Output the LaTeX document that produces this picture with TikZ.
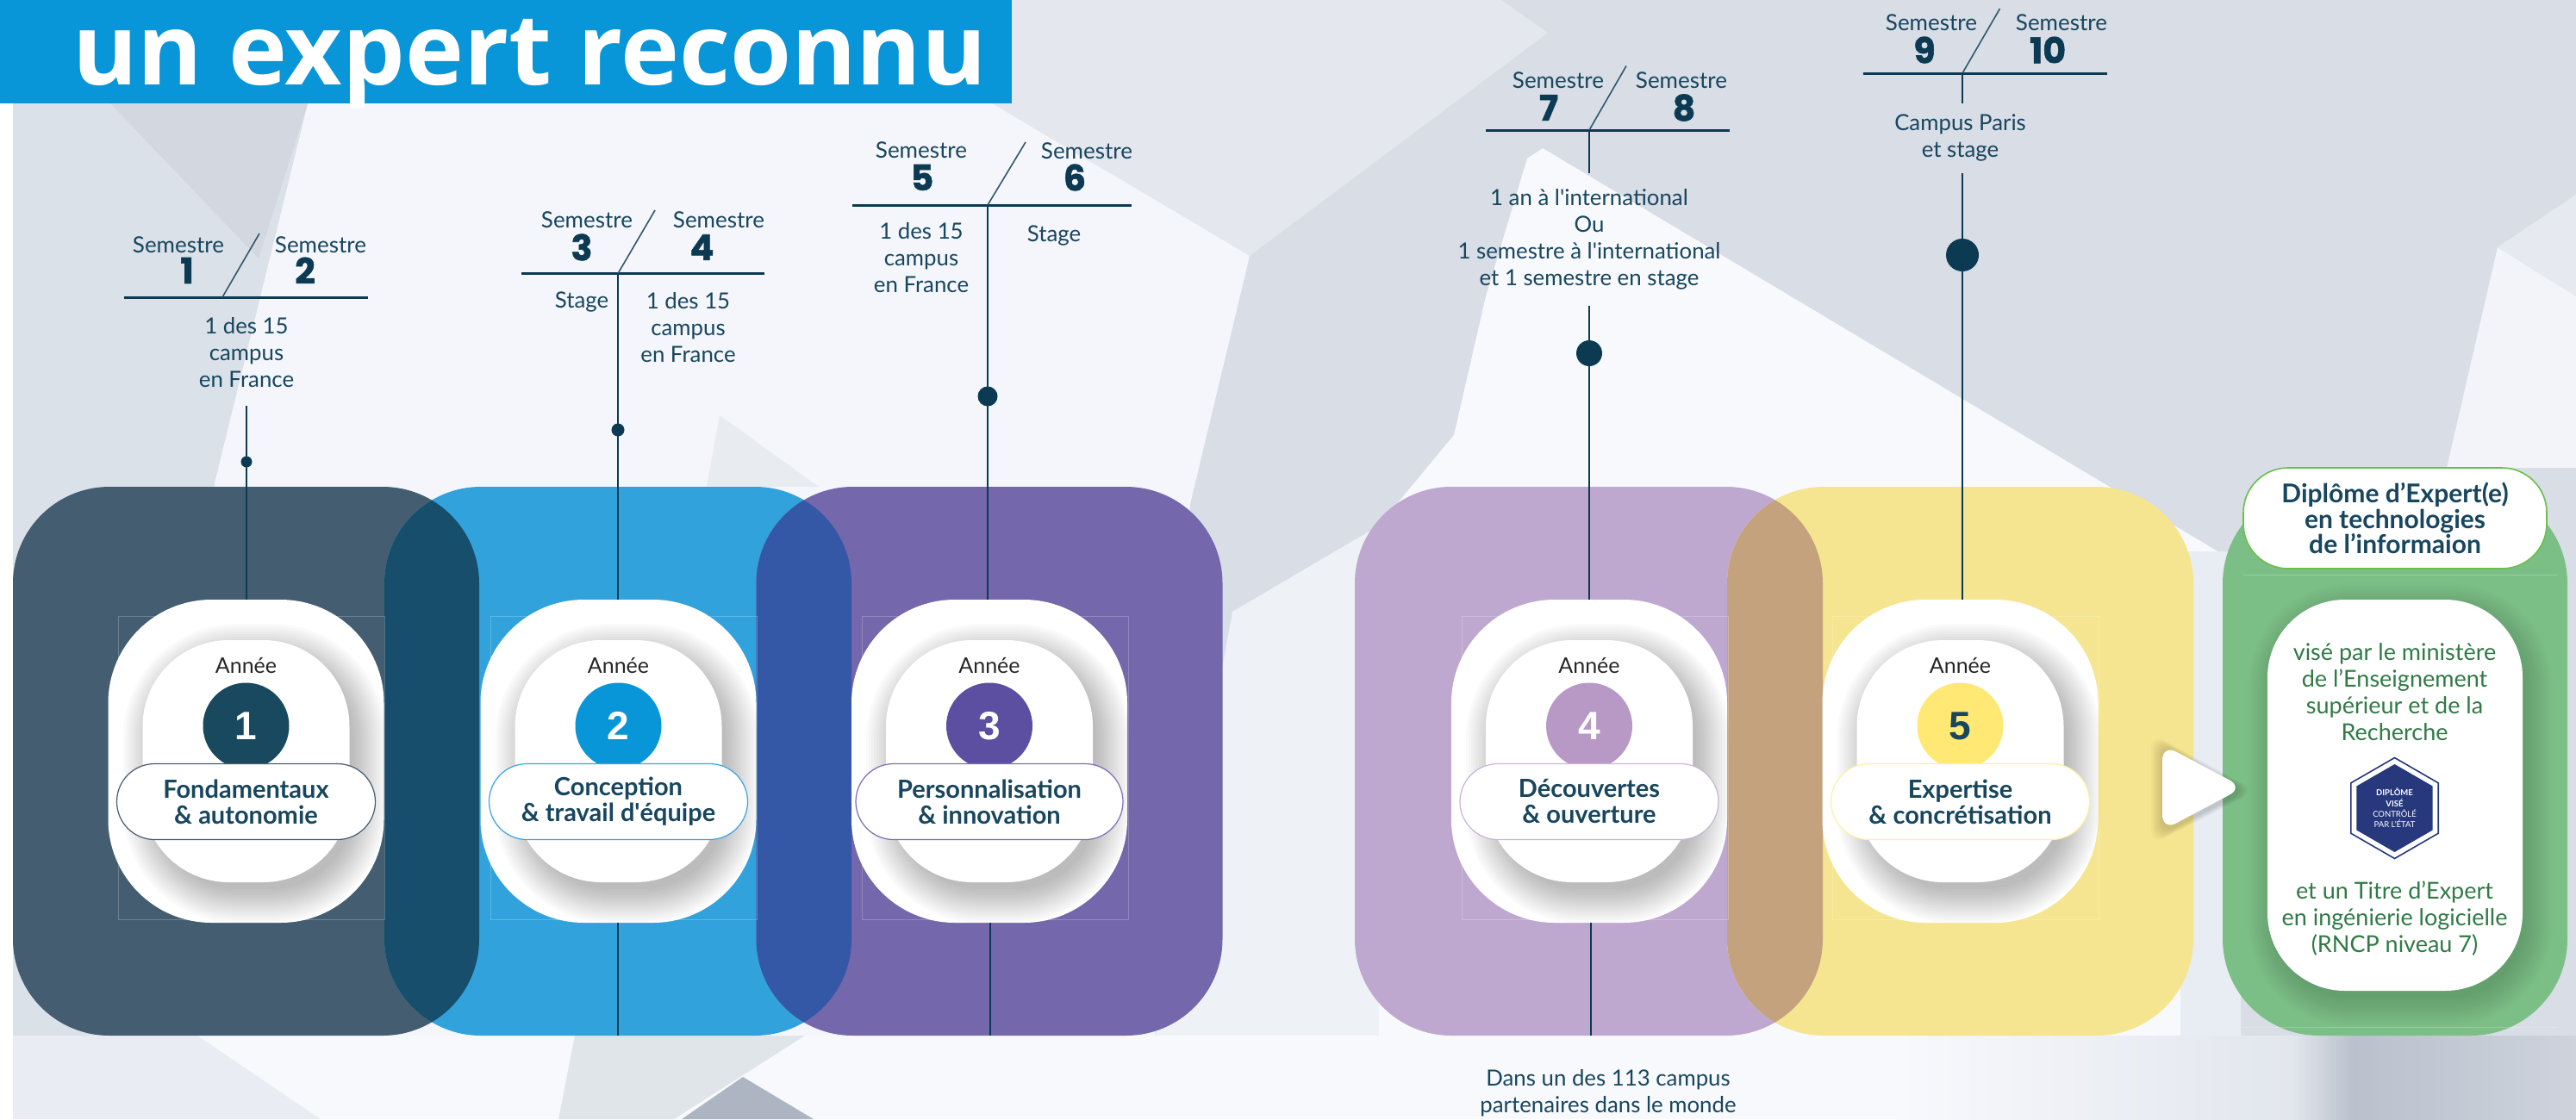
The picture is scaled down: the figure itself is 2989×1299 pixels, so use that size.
\documentclass[tikz,border=0pt]{standalone}
\usepackage{fontspec}
\setmainfont{Lato}
\newfontfamily\numfont[BoldFeatures={FakeBold=1.4}]{Poppins}
\newfontfamily\yearfont{Liberation Sans}
\newfontfamily\headfont{Open Sans}
\usetikzlibrary{shapes}

\definecolor{ink}{HTML}{17465E}
\definecolor{inkdark}{HTML}{0B3A52}
\definecolor{greentext}{HTML}{2F7A45}
\definecolor{navyseal}{HTML}{27387D}

\tikzstyle{panelbox} = [rectangle, rounded corners=112pt, inner sep=0pt, minimum height=637pt]
\tikzstyle{cardbox} = [rectangle, fill=white, rounded corners=120pt, inner sep=0pt,
    minimum width=320pt, minimum height=375pt]
\tikzstyle{innerbox} = [rectangle, fill=white, rounded corners=100pt, inner sep=0pt,
    minimum width=240pt, minimum height=281pt]
\tikzstyle{yeardot} = [circle, inner sep=0pt, minimum size=100pt,
    font=\yearfont\bfseries\fontsize{46}{46}\selectfont]
\tikzstyle{themebox} = [rectangle, fill=white, rounded corners=44pt, inner sep=0pt,
    minimum height=88pt, line width=1.2pt, align=center, text=ink,
    font=\bfseries\fontsize{29}{30}\selectfont]
\tikzstyle{sem} = [text=ink, inner sep=0pt, font=\fontsize{26}{30}\selectfont]
\tikzstyle{semnum} = [text=inkdark, inner sep=0pt, font=\numfont\bfseries\fontsize{41}{41}\selectfont]
\tikzstyle{place} = [text=ink, inner sep=0pt, align=center, font=\fontsize{25.8}{31}\selectfont]
\tikzstyle{headrule} = [draw=inkdark, line width=3pt]
\tikzstyle{slash} = [draw=inkdark!85, line width=1.6pt]
\tikzstyle{stem} = [draw=inkdark, line width=2.2pt]
\tikzstyle{stemdot} = [circle, fill=inkdark, inner sep=0pt]
\tikzstyle{guide} = [draw=white, draw opacity=.22, line width=1pt]

\begin{document}
\begin{tikzpicture}[x=1pt,y=-1pt]
  \useasboundingbox (0,0) rectangle (2989,1299);

  % background
  \fill[white] (0,0) rectangle (2989,1299);
  \fill[color={rgb,255:red,216;green,221;blue,230}] (15,0) rectangle (2989,1299);
  \fill[color={rgb,255:red,228;green,231;blue,238}] (1174,0) -- (1742,0) -- (1796,38) -- (1450,297) -- (1151,120) -- cycle;
  \fill[color={rgb,255:red,244;green,246;blue,251}] (357,120) -- (1151,120) -- (1450,297) -- (1381,585) -- (1340,1202) -- (229,1202) -- (249,560) -- cycle;
  \fill[color={rgb,255:red,219;green,225;blue,233}] (15,120) -- (357,120) -- (249,560) -- (229,1202) -- (15,1202) -- cycle;
  \fill[color={rgb,255:red,233;green,237;blue,243}] (15,1202) -- (229,1202) -- (372,1299) -- (15,1299) -- cycle;
  \fill[color={rgb,255:red,211;green,215;blue,224}] (128,120) -- (357,120) -- (300,300) -- cycle;
  \fill[color={rgb,255:red,232;green,235;blue,240}] (835,482) -- (820,565) -- (950,565) -- cycle;
  \fill[color={rgb,255:red,238;green,241;blue,245}] (1430,710) -- (1600,610) -- (1600,1202) -- (1340,1202) -- cycle;
  \fill[color={rgb,255:red,248;green,249;blue,253}] (1790,172) -- (2590,650) -- (2600,1202) -- (1600,1202) -- (1600,610) -- (1687,505) -- (1724,344) -- (1772,184) -- cycle;
  \fill[color={rgb,255:red,248;green,249;blue,253}] (229,1202) -- (2200,1202) -- (2200,1299) -- (372,1299) -- cycle;
  \fill[color={rgb,255:red,224;green,229;blue,234}] (667,1202) -- (934,1202) -- (782,1299) -- (648,1299) -- cycle;
  \fill[color={rgb,255:red,173;green,181;blue,194}] (862,1250) -- (791,1299) -- (944,1299) -- cycle;
  \fill[color={rgb,255:red,232;green,236;blue,243}] (2530,640) rectangle (2600,1202);
  \shade[left color={rgb,255:red,248;green,249;blue,253}, right color={rgb,255:red,226;green,230;blue,237}] (2200,1202) rectangle (2660,1299);
  \shade[left color={rgb,255:red,226;green,230;blue,237}, right color={rgb,255:red,186;green,193;blue,205}] (2660,1202) rectangle (2730,1299);
  \shade[left color={rgb,255:red,186;green,193;blue,205}, right color={rgb,255:red,206;green,211;blue,220}] (2730,1202) rectangle (2989,1299);
  \fill[color={rgb,255:red,242;green,244;blue,249}] (2898,287) -- (2839,543) -- (2989,543) -- (2989,344) -- cycle;
  \fill[color={rgb,255:red,230;green,233;blue,240}] (2898,287) -- (2989,226) -- (2989,344) -- cycle;
  \fill[color={rgb,255:red,8;green,150;blue,217}] (0,0) rectangle (1174,120);
  \node[anchor=base west, inner sep=0pt, text=white, font=\headfont\bfseries\fontsize{115}{115}\selectfont] (headline) at (84,98) {un expert reconnu};

  % panels
  \node[panelbox, fill={rgb,255:red,68;green,93;blue,113}, minimum width=541pt] (panel1) at (285.5,883.5) {};
  \node[panelbox, fill={rgb,255:red,49;green,162;blue,219}, minimum width=542pt] (panel2) at (717,883.5) {};
  \node[panelbox, fill={rgb,255:red,116;green,103;blue,171}, minimum width=541pt] (panel3) at (1148,883.5) {};
  \node[panelbox, fill={rgb,255:red,191;green,168;blue,208}, minimum width=543pt] (panel4) at (1843.5,883.5) {};
  \node[panelbox, fill={rgb,255:red,246;green,229;blue,144}, minimum width=541pt] (panel5) at (2274.5,883.5) {};
  \node[panelbox, fill={rgb,255:red,124;green,191;blue,134}, minimum width=400pt] (panel6) at (2779,883.5) {};
  \begin{scope}
    \clip[rounded corners=112pt] (15,565) rectangle (556,1202);
    \fill[rounded corners=112pt, color={rgb,255:red,22;green,78;blue,108}] (446,565) rectangle (988,1202);
  \end{scope}
  \begin{scope}
    \clip[rounded corners=112pt] (446,565) rectangle (988,1202);
    \fill[rounded corners=112pt, color={rgb,255:red,52;green,88;blue,165}] (877.5,565) rectangle (1418,1202);
  \end{scope}
  \begin{scope}
    \clip[rounded corners=112pt] (1572,565) rectangle (2115,1202);
    \fill[rounded corners=112pt, color={rgb,255:red,197;green,162;blue,126}] (2004,565) rectangle (2545,1202);
  \end{scope}

  % semesters 1 / 2
  \coordinate (rule1a) at (144,345);
  \coordinate (rule1b) at (427,345);
  \coordinate (slash1a) at (258,345);
  \coordinate (slash1b) at (301,271);
  \draw[headrule] (rule1a) -- (rule1b);
  \draw[slash] (slash1a) -- (slash1b);
  \node[sem] (sem1) at (207,284) {Semestre};
  \node[sem] (sem2) at (372,284) {Semestre};
  \node[semnum] (num1) at (217,314) {1};
  \node[semnum] (num2) at (354,314) {2};
  \node[place] (place1) at (286,409) {1 des 15\\campus\\en France};

  % semesters 3 / 4
  \coordinate (rule2a) at (605,317.5);
  \coordinate (rule2b) at (887,317.5);
  \coordinate (slash2a) at (717,317.5);
  \coordinate (slash2b) at (760,244);
  \draw[headrule] (rule2a) -- (rule2b);
  \draw[slash] (slash2a) -- (slash2b);
  \node[sem] (sem3) at (681,255) {Semestre};
  \node[sem] (sem4) at (834,255) {Semestre};
  \node[semnum] (num3) at (675,287) {3};
  \node[semnum] (num4) at (814.5,287) {4};
  \node[place] (place3) at (675,350) {Stage};
  \node[place] (place4) at (798.5,380) {1 des 15\\campus\\en France};

  % semesters 5 / 6
  \coordinate (rule3a) at (989,238);
  \coordinate (rule3b) at (1313,238);
  \coordinate (slash3a) at (1146,238);
  \coordinate (slash3b) at (1190,165);
  \draw[headrule] (rule3a) -- (rule3b);
  \draw[slash] (slash3a) -- (slash3b);
  \node[sem] (sem5) at (1069,174) {Semestre};
  \node[sem] (sem6) at (1261,175) {Semestre};
  \node[semnum] (num5) at (1070,206) {5};
  \node[semnum] (num6) at (1247,206) {6};
  \node[place] (place5) at (1069,299) {1 des 15\\campus\\en France};
  \node[place] (place6) at (1223,274) {Stage};

  % semesters 7 / 8
  \coordinate (rule4a) at (1724,151);
  \coordinate (rule4b) at (2007,151);
  \coordinate (slash4a) at (1844,151);
  \coordinate (slash4b) at (1887,76.5);
  \draw[headrule] (rule4a) -- (rule4b);
  \draw[slash] (slash4a) -- (slash4b);
  \node[sem] (sem7) at (1808,93) {Semestre};
  \node[sem] (sem8) at (1951,93) {Semestre};
  \node[semnum] (num7) at (1797,125) {7};
  \node[semnum] (num8) at (1954,125) {8};
  \node[place] (place7) at (1844,278) {1 an à l\textquotesingle international\\Ou\\1 semestre à l\textquotesingle international\\et 1 semestre en stage};

  % semesters 9 / 10
  \coordinate (rule5a) at (2162,85);
  \coordinate (rule5b) at (2445,85);
  \coordinate (slash5a) at (2277,85);
  \coordinate (slash5b) at (2320.5,10);
  \draw[headrule] (rule5a) -- (rule5b);
  \draw[slash] (slash5a) -- (slash5b);
  \node[sem] (sem9) at (2241,26) {Semestre};
  \node[sem] (sem10) at (2392,26) {Semestre};
  \node[semnum] (num9) at (2233,58) {9};
  \node[semnum] (num10) at (2376,58) {10};
  \node[place] (place9) at (2274.5,160) {Campus Paris\\et stage};
  \node[place] (place10) at (1866,1268.5) {Dans un des 113 campus\\partenaires dans le monde};

  % year cards
  \foreach \id/\cx/\fillc/\edgec/\digitc/\themea/\themeb/\wide in {
      1/285.5/{rgb,255:red,24;green,73;blue,95}/{rgb,255:red,68;green,93;blue,113}/white/Fondamentaux/{\& autonomie}/300pt,
      2/717.5/{rgb,255:red,9;green,150;blue,216}/{rgb,255:red,59;green,164;blue,224}/white/Conception/{\& travail d\textquotesingle équipe}/300pt,
      3/1148/{rgb,255:red,92;green,78;blue,160}/{rgb,255:red,126;green,108;blue,184}/white/Personnalisation/{\& innovation}/310pt,
      4/1844/{rgb,255:red,184;green,153;blue,198}/{rgb,255:red,201;green,181;blue,214}/white/Découvertes/{\& ouverture}/300pt,
      5/2274.5/{rgb,255:red,255;green,232;blue,115}/{rgb,255:red,255;green,240;blue,160}/ink/Expertise/{\& concrétisation}/300pt}{
    \draw[guide] (\cx-148,715) rectangle (\cx+161,1067);
    \node[cardbox] (card\id) at (\cx,883.5) {};
    \foreach \s in {-6,-3,...,33}
      \fill[black, opacity=.02, rounded corners=100pt+\s pt]
        (\cx-120+10-\s,743+14-\s) rectangle (\cx+120+10+\s,1024+14+\s);
    \node[innerbox] (inner\id) at (card\id) {};
    \node[inner sep=0pt, text=black!85, font=\fontsize{25}{28}\selectfont] (year\id) [above of=card\id, node distance=111pt] {Année};
    \node[yeardot, fill={\fillc}, text=\digitc] (dot\id) [above of=card\id, node distance=41pt] {\id};
    \node[themebox, draw={\edgec}, minimum width=\wide] (theme\id) [below of=card\id, node distance=47pt] {\themea\\\themeb};
  }

  % stems
  \coordinate (top1) at (286,471);
  \coordinate (top4) at (1844,355);
  \coordinate (top5) at (2277,201);
  \coordinate (gap4) at (1844,201);
  \coordinate (gap5) at (2277,120);
  \coordinate (foot2) at (717,1202);
  \coordinate (foot3) at (1149,1202);
  \coordinate (foot4) at (1846,1202);
  \draw[stem] (top1) -- (top1 |- card1.north);
  \draw[stem] (slash2a) -- (slash2a |- card2.north);
  \draw[stem] (slash3a) -- (slash3a |- card3.north);
  \draw[stem] (slash4a) -- (gap4);
  \draw[stem] (top4) -- (top4 |- card4.north);
  \draw[stem] (slash5a) -- (gap5);
  \draw[stem] (top5) -- (top5 |- card5.north);
  \draw[stem] (foot2 |- card2.south) -- (foot2);
  \draw[stem] (foot3 |- card3.south) -- (foot3);
  \draw[stem] (foot4 |- card4.south) -- (foot4);
  \node[stemdot, minimum size=13pt] (mark1) at (286,536) {};
  \node[stemdot, minimum size=15pt] (mark2) at (717,499) {};
  \node[stemdot, minimum size=23pt] (mark3) at (1146,460) {};
  \node[stemdot, minimum size=30pt] (mark4) at (1844,410) {};
  \node[stemdot, minimum size=38pt] (mark5) at (2277,296) {};

  % diploma
  \foreach \s in {-4,-1,...,29}
    \fill[black, opacity=.013, rounded corners=90pt+\s pt]
      (2631+6-\s,696+10-\s) rectangle (2927+6+\s,1150+12+\s);
  \node[rectangle, fill=white, rounded corners=90pt, inner sep=0pt, minimum width=296pt, minimum height=454pt] (visa) at (2779,923) {};
  \node[rectangle, draw={rgb,255:red,106;green,191;blue,75}, fill=white, line width=1.6pt, rounded corners=52pt, inner sep=0pt,
      minimum width=352pt, minimum height=117pt, align=center, text=ink,
      font=\bfseries\fontsize{30}{29.5}\selectfont] (diploma) at (2779,601.5) {Diplôme d’Expert(e)\\en technologies\\de l’informaion};
  \draw[guide] (2603,667.5) -- (2968,667.5);
  \draw[guide] (2603,1192) -- (2968,1192);
  \node[text=greentext, inner sep=0pt, align=center, font=\fontsize{27}{31}\selectfont] (visatop) at (2778.5,803.5) {visé par le ministère\\de l’Enseignement\\supérieur et de la\\Recherche};
  \node[text=greentext, inner sep=0pt, align=center, font=\fontsize{27}{31}\selectfont] (visabottom) at (2778.5,1066) {et un Titre d’Expert\\en ingénierie logicielle\\(RNCP niveau 7)};
  \node[regular polygon, regular polygon sides=6, shape border rotate=90, draw=navyseal, fill=white, line width=1.6pt, inner sep=0pt, minimum size=117pt] (sealouter) at (2778.5,938) {};
  \node[regular polygon, regular polygon sides=6, shape border rotate=90, fill=navyseal, inner sep=0pt, minimum size=102pt, text=white, align=center,
      font=\fontsize{9.5}{12.4}\selectfont] (seal) at (sealouter) {\textbf{DIPLÔME}\\\textbf{VISÉ}\\CONTRÔLÉ\\PAR L’ÉTAT};

  % arrow to diploma
  \foreach \s in {1,3,...,13}
    \fill[black, opacity=.025, rounded corners=18pt]
      (2509-\s,864-\s) -- (2603+\s+2,914+4) -- (2509-\s,964+\s+4) -- cycle;
  \fill[white, rounded corners=18pt] (2509,864) -- (2603,914) -- (2509,964) -- cycle;
\end{tikzpicture}
\end{document}
